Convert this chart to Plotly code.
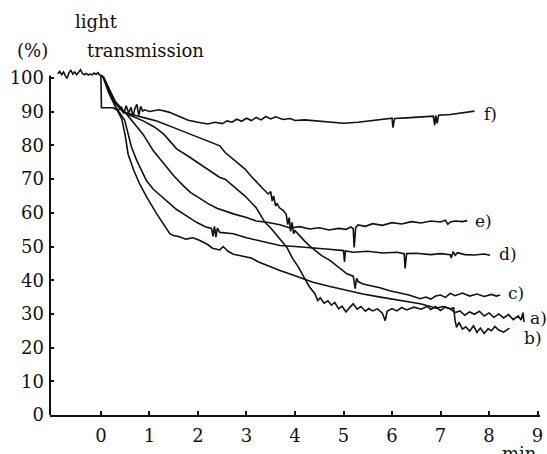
import plotly.graph_objects as go

# ---- data (time in min, light transmission in %) ----
base_x = [-0.89, -0.85, -0.81, -0.77, -0.73, -0.70, -0.66, -0.62, -0.58, -0.54, -0.50, -0.46,
          -0.42, -0.38, -0.34, -0.30, -0.26, -0.22, -0.18, -0.14, -0.10, -0.06, -0.03, 0.0]
base_y = [101.3, 102.0, 101.0, 101.8, 100.6, 99.9, 101.5, 102.4, 101.2, 101.8, 101.0, 101.6,
          102.5, 101.3, 101.0, 101.4, 100.9, 101.2, 101.0, 101.5, 101.1, 101.6, 101.0, 100.8]

a_x = [0.0, 0.05, 0.15, 0.3, 0.43, 0.5, 0.56, 0.68, 0.80, 0.95, 1.15, 1.3, 1.42, 1.49, 1.6, 1.75,
       1.9, 2.04, 2.2, 2.3, 2.45, 2.52, 2.62, 2.73, 2.9, 3.1, 3.25, 3.42, 3.69, 4.0, 4.37, 4.7,
       5.07, 5.4, 5.76, 6.1, 6.4, 6.58, 6.7, 6.8, 6.9, 7.0, 7.1, 7.2, 7.3, 7.4, 7.5, 7.6, 7.7,
       7.8, 7.9, 8.0, 8.1, 8.2, 8.3, 8.4, 8.5, 8.6, 8.66, 8.7, 8.72]
a_y = [100.8, 100.2, 96.5, 91.5, 87.8, 83.0, 77.4, 72.5, 68.5, 64.5, 59.7, 56.5, 53.8, 53.3,
       53.0, 52.2, 52.6, 51.8, 50.6, 49.5, 49.0, 50.0, 48.6, 47.7, 47.2, 46.6, 45.4, 44.4, 42.9,
       41.3, 39.4, 38.2, 37.0, 35.9, 35.0, 34.2, 33.6, 33.0, 32.6, 31.3, 32.2, 31.0, 32.1, 31.5,
       30.4, 30.9, 29.6, 30.6, 29.9, 30.8, 29.4, 30.3, 29.0, 30.0, 28.8, 29.8, 28.3, 29.4, 28.2,
       30.4, 27.6]

b_x = [0.0, 0.05, 0.15, 0.3, 0.45, 0.6, 0.87, 1.1, 1.3, 1.56, 1.8, 2.0, 2.2, 2.45, 2.56, 2.75,
       2.97, 3.2, 3.38, 3.5, 3.65, 3.83, 3.95, 4.07, 4.2, 4.3, 4.41, 4.47, 4.52, 4.6, 4.68, 4.75,
       4.82, 4.9, 4.97, 5.05, 5.12, 5.2, 5.28, 5.36, 5.45, 5.52, 5.6, 5.7, 5.8, 5.86, 5.9, 6.0,
       6.1, 6.2, 6.3, 6.45, 6.6, 6.75, 6.9, 7.05, 7.2, 7.27, 7.3, 7.33, 7.38, 7.45, 7.52, 7.6,
       7.68, 7.75, 7.82, 7.9, 7.98, 8.05, 8.12, 8.2, 8.3, 8.42]
b_y = [100.8, 100.3, 97.0, 92.8, 90.2, 89.0, 87.3, 85.5, 83.3, 79.0, 76.8, 74.8, 72.9, 70.5,
       70.0, 67.8, 65.0, 61.5, 57.2, 55.5, 52.8, 49.8, 46.5, 43.9, 40.5, 38.0, 36.0, 34.0, 34.8,
       33.2, 33.9, 32.6, 33.4, 31.5, 32.3, 30.6, 31.8, 33.0, 31.4, 32.2, 30.8, 31.6, 30.9, 31.5,
       30.2, 28.0, 30.8, 31.6, 30.9, 31.9, 31.2, 32.0, 31.4, 32.4, 31.7, 32.2, 31.5, 31.8, 28.0,
       26.0, 27.5, 25.5, 26.2, 24.9, 26.5, 24.5, 25.8, 24.2, 25.6, 25.0, 26.3, 25.2, 24.6, 25.8]

c_x = [0.0, 0.05, 0.15, 0.3, 0.45, 0.6, 0.73, 0.9, 1.15, 1.5, 1.85, 2.1, 2.45, 2.56, 2.75,
       2.97, 3.1, 3.24, 3.35, 3.45, 3.5, 3.53, 3.56, 3.6, 3.63, 3.68, 3.76, 3.82, 3.85, 3.88,
       3.91, 3.94, 3.97, 4.0, 4.1, 4.2, 4.3, 4.41, 4.55, 4.72, 4.9, 5.07, 5.2, 5.24, 5.27, 5.3,
       5.4, 5.55, 5.75, 5.95, 6.15, 6.35, 6.58, 6.7, 6.8, 6.9, 7.0, 7.1, 7.2, 7.3, 7.45, 7.6,
       7.75, 7.9, 8.05, 8.15, 8.23]
c_y = [100.8, 100.3, 97.5, 92.5, 90.0, 89.3, 88.8, 88.2, 87.3, 85.3, 83.3, 81.8, 79.9, 77.9,
       75.6, 73.0, 70.8, 68.5, 67.0, 65.6, 66.3, 63.5, 65.0, 62.0, 62.8, 61.5, 60.7, 59.5, 56.5,
       58.6, 54.5, 57.2, 53.8, 54.7, 53.0, 51.6, 50.2, 48.8, 47.3, 45.9, 43.7, 41.9, 41.2, 37.5,
       40.6, 39.6, 38.9, 38.5, 37.8, 36.9, 36.3, 35.6, 34.5, 35.0, 34.4, 35.3, 35.6, 34.9, 36.1,
       35.4, 36.2, 35.3, 35.9, 35.2, 35.8, 35.3, 35.6]

d_x = [0.0, 0.05, 0.15, 0.3, 0.49, 0.63, 0.74, 0.94, 1.08, 1.35, 1.56, 1.7, 1.97, 2.15, 2.28,
       2.31, 2.34, 2.37, 2.40, 2.45, 2.73, 3.0, 3.42, 3.69, 4.0, 4.41, 4.7, 5.0, 5.02, 5.04, 5.2,
       5.5, 5.8, 6.1, 6.25, 6.27, 6.3, 6.5, 6.8, 7.0, 7.2, 7.22, 7.26, 7.3, 7.35, 7.5, 7.7, 7.9,
       8.02]
d_y = [100.8, 100.2, 96.0, 91.5, 87.5, 79.5, 75.5, 69.5, 67.0, 63.5, 61.0, 59.7, 57.2, 55.9,
       55.4, 53.0, 56.0, 52.8, 55.5, 54.2, 53.8, 52.6, 51.3, 50.3, 50.0, 49.4, 49.2, 48.8, 45.4,
       48.7, 48.3, 48.6, 48.1, 48.3, 47.9, 43.5, 47.9, 48.0, 47.6, 47.9, 47.6, 46.6, 48.5, 47.4,
       48.2, 47.6, 47.5, 47.8, 47.4]

e_x = [0.0, 0.05, 0.15, 0.3, 0.45, 0.53, 0.67, 0.87, 1.08, 1.22, 1.35, 1.5, 1.7, 1.85, 2.04,
       2.2, 2.39, 2.55, 2.73, 3.0, 3.2, 3.42, 3.69, 3.9, 4.1, 4.3, 4.5, 4.7, 4.9, 5.05, 5.15,
       5.2, 5.22, 5.25, 5.3, 5.45, 5.6, 5.8, 6.0, 6.2, 6.4, 6.6, 6.8, 7.0, 7.1, 7.15, 7.2, 7.3,
       7.45, 7.55]
e_y = [100.8, 100.3, 97.0, 93.0, 90.5, 89.3, 86.8, 83.3, 78.4, 76.0, 73.5, 71.0, 68.0, 66.0,
       64.3, 62.8, 61.4, 60.5, 59.7, 58.6, 57.6, 57.2, 56.5, 55.5, 55.9, 55.2, 55.6, 54.9, 55.4,
       55.1, 55.8, 55.3, 49.7, 55.6, 56.4, 56.0, 56.8, 56.3, 57.1, 56.7, 57.4, 57.0, 57.6, 57.3,
       57.8, 56.6, 57.3, 57.6, 57.4, 57.7]

f_x = [0.0, 0.01, 0.25, 0.35, 0.42, 0.47, 0.52, 0.57, 0.62, 0.66, 0.70, 0.74, 0.78, 0.82,
       0.86, 0.90, 1.0, 1.2, 1.4, 1.6, 1.8, 2.0, 2.2, 2.35, 2.5, 2.6, 2.7, 2.8, 2.9, 3.0, 3.1,
       3.2, 3.3, 3.4, 3.5, 3.6, 3.75, 3.9, 4.0, 4.2, 4.6, 5.0, 5.3, 5.6, 5.9, 6.0, 6.02, 6.05,
       6.3, 6.6, 6.85, 6.88, 6.9, 6.93, 6.96, 7.2, 7.45, 7.7]
f_y = [100.8, 91.2, 91.2, 90.3, 91.5, 89.5, 91.8, 89.7, 91.3, 88.6, 91.0, 92.2, 88.9, 91.6,
       90.2, 90.6, 90.1, 90.6, 89.9, 88.8, 87.5, 86.9, 86.4, 86.9, 86.5, 87.3, 86.9, 87.8, 87.2,
       88.1, 87.4, 88.3, 87.6, 88.6, 87.9, 88.5, 87.7, 88.0, 87.4, 87.6, 87.2, 86.6, 86.9, 87.5,
       87.9, 88.1, 85.3, 88.0, 88.2, 88.5, 88.7, 86.0, 88.9, 86.6, 89.0, 89.2, 89.6, 90.2]

curve_names = ["a)", "b)", "c)", "d)", "e)", "f)"]
y_ticks = [0, 10, 20, 30, 40, 50, 60, 70, 80, 90, 100]
x_ticks = [0, 1, 2, 3, 4, 5, 6, 7, 8, 9]

# ---- styling ----
FONT = "DejaVu Serif"
INK = "#111111"
LW = 1.6
label_shift = {"a)": (4, 4), "b)": (13, -10), "c)": (6, 2),
               "d)": (7, 1), "e)": (6, 0), "f)": (7, -3)}

series = {"a)": (a_x, a_y), "b)": (b_x, b_y), "c)": (c_x, c_y),
          "d)": (d_x, d_y), "e)": (e_x, e_y), "f)": (f_x, f_y)}

fig = go.Figure()
fig.add_trace(go.Scatter(x=base_x, y=base_y, mode="lines",
                         line=dict(color=INK, width=LW), showlegend=False))
for name in curve_names:
    xs, ys = series[name]
    fig.add_trace(go.Scatter(x=xs, y=ys, mode="lines", name=name,
                             line=dict(color=INK, width=LW), showlegend=False))
    dx, dy = label_shift[name]
    fig.add_annotation(x=xs[-1], y=ys[-1], xref="x", yref="y", text=name,
                       showarrow=False, xanchor="left", yanchor="middle",
                       xshift=dx, yshift=dy, font=dict(family=FONT, size=17, color=INK))

# left spine (stops at the 100 tick as in the original)
fig.add_shape(type="line", xref="paper", yref="y", x0=0, x1=0, y0=0, y1=100.8,
              line=dict(color=INK, width=2))

fig.add_annotation(xref="paper", yref="paper", x=0.047, y=1.135, text="light",
                   showarrow=False, xanchor="left", yanchor="middle",
                   font=dict(family=FONT, size=18, color=INK))
fig.add_annotation(xref="paper", yref="paper", x=-0.071, y=1.049, text="(%)",
                   showarrow=False, xanchor="left", yanchor="middle",
                   font=dict(family=FONT, size=18, color=INK))
fig.add_annotation(xref="paper", yref="paper", x=0.071, y=1.049, text="transmission",
                   showarrow=False, xanchor="left", yanchor="middle",
                   font=dict(family=FONT, size=18, color=INK))
fig.add_annotation(xref="x", yref="paper", x=8.62, y=0, yshift=-26, text="min",
                   showarrow=False, xanchor="center", yanchor="top",
                   font=dict(family=FONT, size=18, color=INK))

fig.update_layout(
    width=547, height=454,
    margin=dict(l=50, r=7, t=68, b=39, autoexpand=False),
    paper_bgcolor="white", plot_bgcolor="white",
    font=dict(family=FONT, size=18, color=INK),
    xaxis=dict(range=[-1.05, 9.05], tickvals=x_ticks, ticks="inside", ticklen=4,
               tickwidth=1.5, tickcolor=INK, showline=True, linecolor=INK, linewidth=2,
               showgrid=False, zeroline=False, ticklabelstandoff=3, automargin=False,
               tickfont=dict(family=FONT, size=18, color=INK)),
    yaxis=dict(range=[0, 103], tickvals=y_ticks, ticks="inside", ticklen=4,
               tickwidth=1.5, tickcolor=INK, showline=False, showgrid=False,
               zeroline=False, ticklabelstandoff=5, automargin=False,
               tickfont=dict(family=FONT, size=18, color=INK)),
)

fig.write_html("out.html", config={"displayModeBar": False},
               post_script="document.body.style.margin='0px';document.body.style.overflow='hidden';")
